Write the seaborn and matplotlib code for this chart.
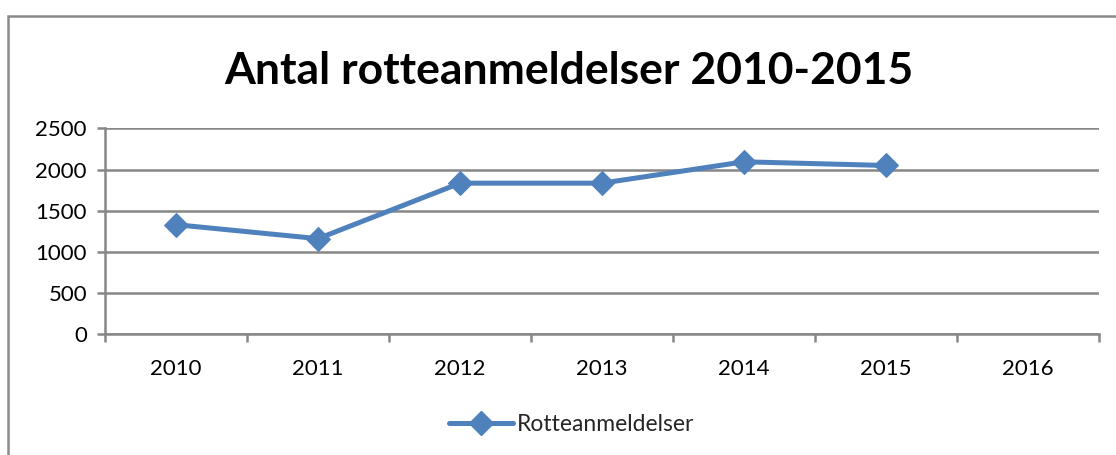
import numpy as np
import pandas as pd
import seaborn as sns
import matplotlib.pyplot as plt
from matplotlib.patches import Rectangle
from matplotlib.lines import Line2D

# data
years = [2010, 2011, 2012, 2013, 2014, 2015, 2016]
counts = [1330, 1160, 1835, 1835, 2095, 2050, np.nan]
series_name = "Rotteanmeldelser"
title = "Antal rotteanmeldelser 2010-2015"
y_ticks = [0, 500, 1000, 1500, 2000, 2500]

df = pd.DataFrame({"year": years, "count": counts})

LINE_COL = "#4F81BD"
GRID_COL = "#878787"

sns.set_style("white")
plt.rcParams["font.family"] = ["Lato", "DejaVu Sans"]

fig = plt.figure(figsize=(11.16, 4.55), dpi=100)
ax = fig.add_axes([0.0941, 0.2659, 0.8907, 0.4517])

sns.lineplot(
    data=df.dropna(), x="year", y="count",
    color=LINE_COL, lw=3.6, marker="D", markersize=12,
    markeredgecolor=LINE_COL, ax=ax, zorder=3
)

ax.set_xlim(years[0] - 0.5, years[-1] + 0.5)
ax.set_ylim(0, 2500)
ax.set_yticks(y_ticks)
ax.set_xticks(years)
ax.set_xticks(np.arange(years[0] - 0.5, years[-1] + 1), minor=True)
ax.set_xlabel("")
ax.set_ylabel("")

ax.yaxis.grid(True, color=GRID_COL, lw=1.8)
ax.set_axisbelow(True)
for s in ["top", "right"]:
    ax.spines[s].set_visible(False)
for s in ["left", "bottom"]:
    ax.spines[s].set_color(GRID_COL)
    ax.spines[s].set_linewidth(1.8)

ax.tick_params(axis="y", which="major", length=6, width=1.8, color=GRID_COL,
               labelsize=16, pad=7, left=True, labelcolor="black")
ax.tick_params(axis="x", which="major", length=0, labelsize=16, pad=18,
               labelcolor="black")
ax.tick_params(axis="x", which="minor", length=6, width=1.8, color=GRID_COL,
               bottom=True)

fig.text(0.51, 0.845, title, ha="center", va="center",
         fontsize=32, fontweight="bold", color="black")

handle = Line2D([], [], color=LINE_COL, lw=3.6, marker="D", markersize=12)
fig.legend([handle], [series_name], loc="center", bbox_to_anchor=(0.512, 0.068),
           frameon=False, fontsize=16.5, handlelength=2.8, handletextpad=0.15)

# outer chart frame (cut off at right/bottom)
fig.patches.append(Rectangle((8 / 1116, -0.1), 1.2, (455 - 16) / 455 + 0.1,
                             transform=fig.transFigure, fill=False,
                             edgecolor="#8a8a8a", lw=1.8))

fig.savefig("out.png", dpi=100)
